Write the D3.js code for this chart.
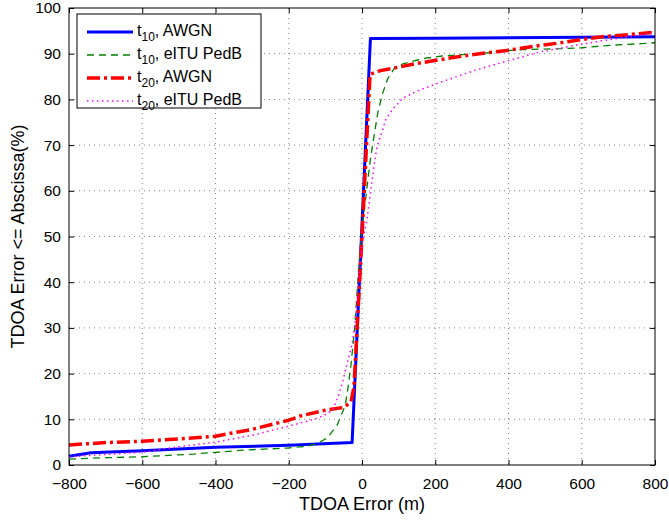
<!DOCTYPE html>
<html>
<head>
<meta charset="utf-8">
<script src="https://cdn.jsdelivr.net/npm/d3@7"></script>
<style>
  body { margin: 0; background: #fff; }
  text { font-family: "Liberation Sans", Arial, sans-serif; }
</style>
</head>
<body>
<svg id="chart" width="669" height="520"></svg>
<script>
// Plot margins
var margin = {top: 8, right: 14, bottom: 55, left: 69};

// Axis ticks
var xTicks = [-800, -600, -400, -200, 0, 200, 400, 600, 800];
var yTicks = [0, 10, 20, 30, 40, 50, 60, 70, 80, 90, 100];

// Series data, [error (m), percent]
var t10Awgn = [[-800, 1.9], [-740, 2.7], [-600, 3.1], [-400, 3.9], [-200, 4.3], [-27, 4.9], [23, 93.3],
  [200, 93.4], [400, 93.5], [600, 93.6], [800, 93.7]];
var t10Ped = [[-800, 1.3], [-700, 1.6], [-600, 1.8], [-460, 2.4], [-315, 3.3], [-205, 3.7], [-150, 4.1],
  [-120, 4.8], [-95, 5.9], [-68, 8.7], [-46, 13], [-38, 17], [-30, 22], [-20, 30], [-10, 42], [0, 52],
  [11, 59], [17, 63], [23, 67], [33, 72], [43, 77], [55, 81], [70, 84.5], [90, 87], [112, 87.8],
  [164, 88.9], [218, 89.5], [273, 89.8], [328, 90], [382, 90.6], [437, 90.9], [491, 91], [546, 91.1],
  [601, 91.3], [655, 91.7], [710, 92], [764, 92.2], [800, 92.4]];
var t20Awgn = [[-800, 4.4], [-700, 4.9], [-600, 5.2], [-500, 5.7], [-400, 6.3], [-300, 7.8], [-200, 9.8],
  [-165, 10.8], [-100, 12], [-50, 12.6], [-30, 13.8], [-22, 17], [0, 50], [22, 85.5], [50, 86.3],
  [90, 86.9], [145, 87.8], [213, 88.7], [276, 89.5], [341, 90.2], [404, 90.8], [467, 91.6], [535, 92.3],
  [600, 93.1], [664, 93.8], [732, 94.2], [800, 94.7]];
var t20Ped = [[-800, 1.8], [-700, 2.3], [-600, 2.8], [-500, 4.0], [-400, 5.0], [-300, 6.5], [-200, 8.5],
  [-130, 10], [-100, 11], [-80, 12], [-65, 15], [-52, 18.5], [-38, 23], [-27, 26.5], [-19, 31], [-10, 40],
  [0, 48], [14, 54], [24, 60], [35, 66.7], [41, 69.6], [54, 72.8], [65, 75.6], [85, 78], [112, 80.3],
  [150, 81.8], [205, 83.5], [314, 86.5], [410, 88.7], [486, 90.4], [587, 91.9], [685, 93.2], [778, 94.3],
  [800, 94.5]];

var series = [
  {sub: '10', name: 'AWGN', data: t10Awgn, color: '#0000ff', width: 3, dash: null},
  {sub: '10', name: 'eITU PedB', data: t10Ped, color: '#008000', width: 1.3, dash: '7,5'},
  {sub: '20', name: 'AWGN', data: t20Awgn, color: '#ff0000', width: 3.5, dash: '13,4,3,4'},
  {sub: '20', name: 'eITU PedB', data: t20Ped, color: '#ff00ff', width: 1.5, dash: '1.5,3.5'}
];

var svg = d3.select('#chart');
var width = 669 - margin.left - margin.right,
  height = 520 - margin.top - margin.bottom;

var g = svg.append('g')
  .attr('transform', 'translate(' + margin.left + ',' + margin.top + ')');

var x = d3.scaleLinear().domain([-800, 800]).range([0, width]);
var y = d3.scaleLinear().domain([0, 100]).range([height, 0]);

// Dotted grid
g.selectAll('.xgrid')
  .data(xTicks.slice(1, -1)).enter()
  .append('line')
  .attr('x1', function(d) { return x(d); })
  .attr('x2', function(d) { return x(d); })
  .attr('y1', 0).attr('y2', height)
  .style('stroke', '#000').style('stroke-width', 0.8)
  .style('stroke-dasharray', '1,4').style('opacity', 0.6);
g.selectAll('.ygrid')
  .data(yTicks.slice(1, -1)).enter()
  .append('line')
  .attr('y1', function(d) { return y(d); })
  .attr('y2', function(d) { return y(d); })
  .attr('x1', 0).attr('x2', width)
  .style('stroke', '#000').style('stroke-width', 0.8)
  .style('stroke-dasharray', '1,4').style('opacity', 0.6);

// Axes with inward ticks on all four sides
var fmt = function(d) { return d < 0 ? '\u2212' + Math.abs(d) : d; };
g.append('g').attr('transform', 'translate(0,' + height + ')')
  .call(d3.axisBottom(x).tickValues(xTicks).tickSizeInner(-5).tickSizeOuter(0).tickPadding(13).tickFormat(fmt));
g.append('g')
  .call(d3.axisLeft(y).tickValues(yTicks).tickSizeInner(-5).tickSizeOuter(0).tickPadding(8));
g.append('g')
  .call(d3.axisTop(x).tickValues(xTicks).tickSizeInner(-5).tickSizeOuter(0).tickFormat(''));
g.append('g').attr('transform', 'translate(' + width + ',0)')
  .call(d3.axisRight(y).tickValues(yTicks).tickSizeInner(-5).tickSizeOuter(0).tickFormat(''));
g.selectAll('.domain').remove();
g.selectAll('.tick text').style('font-size', '15.5px').style('fill', '#000');

// Lines
var line = d3.line()
  .x(function(d) { return x(d[0]); })
  .y(function(d) { return y(d[1]); });

series.forEach(function(s) {
  g.append('path')
    .datum(s.data)
    .attr('d', line)
    .style('fill', 'none')
    .style('stroke', s.color)
    .style('stroke-width', s.width)
    .style('stroke-dasharray', s.dash)
    .style('stroke-linejoin', 'round');
});

// Plot box
g.append('rect')
  .attr('width', width).attr('height', height)
  .style('fill', 'none').style('stroke', '#000').style('stroke-width', 1);

// Legend
var legend = g.append('g').attr('transform', 'translate(8,6)');
legend.append('rect')
  .attr('width', 184).attr('height', 94)
  .style('fill', '#fff').style('stroke', '#000').style('stroke-width', 1);
series.forEach(function(s, i) {
  var ly = 18 + i * 23;
  legend.append('line')
    .attr('x1', 10).attr('x2', 56).attr('y1', ly).attr('y2', ly)
    .style('stroke', s.color).style('stroke-width', s.width)
    .style('stroke-dasharray', s.dash);
  var t = legend.append('text')
    .attr('x', 60).attr('y', ly + 4)
    .style('font-size', '16px');
  t.append('tspan').text('t');
  t.append('tspan').attr('dy', 5).style('font-size', '12px').text(s.sub);
  t.append('tspan').attr('dy', -5).text(', ' + s.name);
});

// Axis labels
svg.append('text')
  .attr('x', margin.left + width / 2).attr('y', 510)
  .attr('text-anchor', 'middle').style('font-size', '18px')
  .text('TDOA Error (m)');
svg.append('text')
  .attr('transform', 'translate(24,' + (margin.top + height / 2) + ') rotate(-90)')
  .attr('text-anchor', 'middle').style('font-size', '18px')
  .text('TDOA Error <= Abscissa(%)');
</script>
</body>
</html>
